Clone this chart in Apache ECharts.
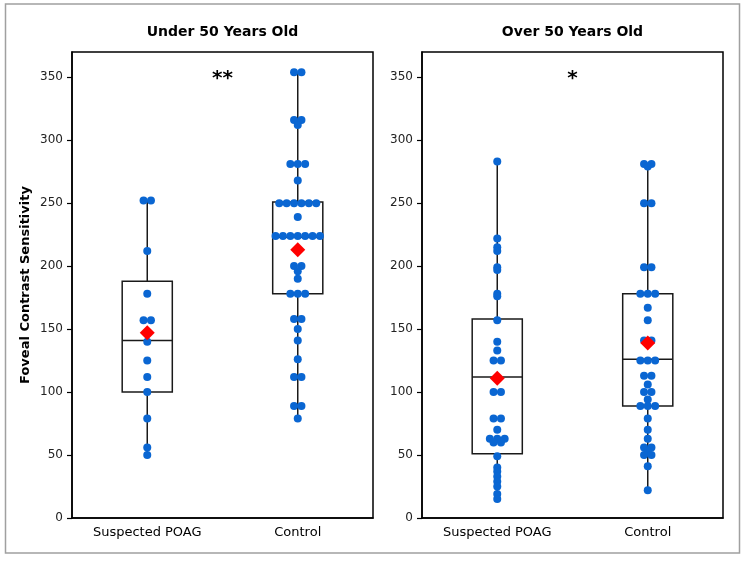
<!DOCTYPE html>
<html><head><meta charset="utf-8">
<script src="https://cdn.jsdelivr.net/npm/echarts@6/dist/echarts.min.js"></script>
<style>html,body{margin:0;padding:0;background:#fff}#c{width:749px;height:561px}</style>
</head><body><div id="c"></div>
<script>
const categories = ['Suspected POAG', 'Control'];
const panelTitles = ['Under 50 Years Old', 'Over 50 Years Old'];
const yAxisName = 'Foveal Contrast Sensitivity';
const yTicks = [0, 50, 100, 150, 200, 250, 300, 350];
const significance = ['**', '*'];

const under50Poag = [252, 252, 212, 178, 157, 157, 140, 125, 112, 100, 79, 56, 50];
const under50Control = [354, 354, 316, 316, 312, 281, 281, 281, 268,
  250, 250, 250, 250, 250, 250, 239,
  224, 224, 224, 224, 224, 224, 224,
  200, 200, 196, 190, 178, 178, 178,
  158, 158, 150, 141, 126, 112, 112, 89, 89, 79];
const over50Poag = [283, 222, 215, 212, 199, 197, 178, 176, 157, 140, 133,
  125, 125, 100, 100, 79, 79, 70, 63, 63, 63, 60, 60,
  49, 40, 37, 33, 29, 25, 19, 15];
const over50Control = [281, 281, 279, 250, 250, 199, 199,
  178, 178, 178, 167, 157, 141, 141,
  125, 125, 125, 113, 113, 106, 100, 100, 94,
  89, 89, 89, 79, 70, 63, 56, 56, 53, 50, 50, 41, 22];

// [min, Q1, median, Q3, max] per category
const under50Box = [[50, 100, 141, 188, 252], [79, 178, 223, 251, 354]];
const over50Box = [[15, 51, 112, 158, 283], [22, 89, 126, 178, 281]];
const under50Mean = [147, 213];
const over50Mean = [111, 139];

const FONT = 'DejaVu Sans';
const GRID_H = 466, Y_MAX = 370;
const DOT = 8, DOT_SPACING = 7.4;
const BLUE = '#0a66d2';

// Tied values are laid out in a centred horizontal row (scatter-dot style)
function rowOffsets(values, S) {
  const counts = {}, seen = {};
  values.forEach(v => { counts[v] = (counts[v] || 0) + 1; });
  return values.map(v => {
    const k = seen[v] || 0; seen[v] = k + 1;
    return (k - (counts[v] - 1) / 2) * S;
  });
}

function dotData(values, cat) {
  const off = rowOffsets(values, DOT_SPACING);
  return values.map((v, i) => ({ value: [cat, v], symbolOffset: [off[i], 0] }));
}

function boxRender(params, api) {
  const x = api.value(0);
  const pMin = api.coord([x, api.value(1)]);
  const pQ1 = api.coord([x, api.value(2)]);
  const pMed = api.coord([x, api.value(3)]);
  const pQ3 = api.coord([x, api.value(4)]);
  const pMax = api.coord([x, api.value(5)]);
  const bw = api.size([1, 0])[0] * 0.333;
  const cx = pMed[0];
  const st = { stroke: '#1a1a1a', lineWidth: 1.5, fill: null };
  return {
    type: 'group',
    children: [
      { type: 'line', shape: { x1: cx, y1: pQ3[1], x2: cx, y2: pMax[1] }, style: st },
      { type: 'line', shape: { x1: cx, y1: pQ1[1], x2: cx, y2: pMin[1] }, style: st },
      { type: 'rect', shape: { x: cx - bw / 2, y: pQ3[1], width: bw, height: pQ1[1] - pQ3[1] }, style: { stroke: '#1a1a1a', lineWidth: 1.5, fill: 'rgba(0,0,0,0)' } },
      { type: 'line', shape: { x1: cx - bw / 2, y1: pMed[1], x2: cx + bw / 2, y2: pMed[1] }, style: st }
    ]
  };
}

const grids = [
  { left: 72, top: 52, width: 301, height: GRID_H },
  { left: 422, top: 52, width: 301, height: GRID_H }
];

function xAxisCfg(gi) {
  return {
    type: 'category', gridIndex: gi, data: categories, boundaryGap: true,
    axisLine: { lineStyle: { color: '#000', width: 1.5 } },
    axisTick: { alignWithLabel: true, length: 5, lineStyle: { color: '#000', width: 1.2 } },
    axisLabel: { color: '#000', fontFamily: FONT, fontSize: 13, margin: 8 },
    splitLine: { show: false }
  };
}
function yAxisCfg(gi) {
  const a = {
    type: 'value', gridIndex: gi, min: 0, max: Y_MAX, interval: 50,
    axisLine: { show: true, lineStyle: { color: '#000', width: 1.5 } },
    axisTick: { show: true, length: 5, customValues: yTicks, lineStyle: { color: '#000', width: 1.2 } },
    axisLabel: { color: '#222', fontFamily: FONT, fontSize: 12, margin: 9, customValues: yTicks },
    splitLine: { show: false }
  };
  if (gi === 0) {
    a.name = yAxisName;
    a.nameLocation = 'middle';
    a.nameGap = 40;
    a.nameTextStyle = { fontFamily: FONT, fontWeight: 'bold', fontSize: 13, color: '#000' };
  }
  return a;
}

const panels = [
  { box: under50Box, mean: under50Mean, groups: [under50Poag, under50Control] },
  { box: over50Box, mean: over50Mean, groups: [over50Poag, over50Control] }
];

const series = [];
panels.forEach((p, gi) => {
  series.push({
    type: 'custom', xAxisIndex: gi, yAxisIndex: gi, renderItem: boxRender, silent: true,
    encode: { x: 0, y: [1, 2, 3, 4, 5] },
    data: p.box.map((b, i) => [i].concat(b)), z: 1
  });
  p.groups.forEach((vals, ci) => {
    series.push({
      type: 'scatter', xAxisIndex: gi, yAxisIndex: gi, symbol: 'circle', symbolSize: DOT,
      itemStyle: { color: BLUE, opacity: 1 }, data: dotData(vals, ci), z: 3
    });
  });
  series.push({
    type: 'scatter', xAxisIndex: gi, yAxisIndex: gi, symbol: 'diamond', symbolSize: [15, 15],
    itemStyle: { color: '#ff0000', opacity: 1 }, data: p.mean.map((m, i) => [i, m]), z: 4
  });
});

const chart = echarts.init(document.getElementById('c'));
chart.setOption({
  animation: false,
  backgroundColor: '#fff',
  grid: grids.map(g => Object.assign({ show: true, borderColor: '#000', borderWidth: 1.5, backgroundColor: 'transparent' }, g)),
  title: panelTitles.map((t, i) => ({
    text: t, left: grids[i].left + grids[i].width / 2, top: 25, textAlign: 'center', padding: 0,
    textStyle: { fontFamily: FONT, fontWeight: 'bold', fontSize: 14, color: '#000' }
  })),
  xAxis: [xAxisCfg(0), xAxisCfg(1)],
  yAxis: [yAxisCfg(0), yAxisCfg(1)],
  series: series,
  graphic: [
    { type: 'rect', shape: { x: 5.5, y: 4, width: 734, height: 549 }, style: { fill: 'none', stroke: '#a0a0a0', lineWidth: 1.5 }, z: -1 }
  ].concat(significance.map((s, i) => ({
    type: 'text', x: grids[i].left + grids[i].width / 2, y: 79,
    style: { text: s, fontFamily: FONT, fontSize: 20, fontWeight: 'bold', fill: '#000', textAlign: 'center', textVerticalAlign: 'middle' }
  })))
});
</script></body></html>
